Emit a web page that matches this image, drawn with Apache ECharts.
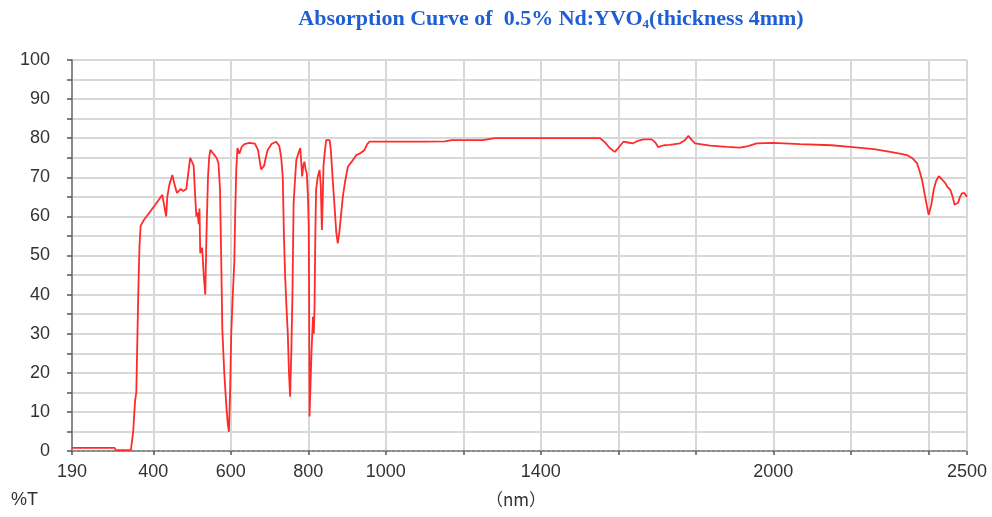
<!DOCTYPE html>
<html>
<head>
<meta charset="utf-8">
<title>Absorption Curve of 0.5% Nd:YVO4</title>
<script src="https://cdn.jsdelivr.net/npm/echarts@6/dist/echarts.min.js"></script>
<style>
  html, body { margin: 0; padding: 0; background: #fff; }
  #chart { width: 992px; height: 517px; }
</style>
</head>
<body>
<div id="chart"></div>
<script>
// Wavelength (nm) and transmittance (%T) samples of the spectrum
const wavelength = [
  190, 300, 303, 342, 348, 351, 353, 356, 358, 361, 364, 367, 375, 390, 405, 423, 428, 433, 436, 441,
  449, 455, 461, 465, 470, 477, 485, 490, 495, 500, 504, 508, 511, 514, 517, 519, 521, 526, 530, 534,
  537, 541, 544, 547, 555, 563, 568, 572, 575, 578, 583, 588, 592, 595, 598, 601, 605, 609, 611, 614,
  617, 622, 628, 635, 648, 662, 670, 678, 682, 686, 690, 695, 705, 717, 725, 730, 734, 737, 740, 743,
  747, 750, 753, 756, 759, 762, 766, 769, 774, 779, 781, 784, 787, 790, 793, 796, 799, 801, 802, 803,
  805, 808, 812, 814, 816, 818, 820, 824, 829, 832, 835, 837, 839, 842, 846, 855, 858, 863, 868, 872,
  876, 880, 884, 889, 895, 902, 912, 924, 935, 945, 952, 958, 1000, 1100, 1152, 1170, 1250, 1282, 1400, 1500,
  1553, 1565, 1578, 1591, 1600, 1613, 1625, 1638, 1650, 1665, 1686, 1695, 1703, 1718, 1733, 1759, 1772, 1781, 1790, 1798,
  1837, 1880, 1914, 1935, 1957, 2000, 2069, 2150, 2198, 2260, 2302, 2330, 2345, 2360, 2371, 2378, 2384, 2392, 2401, 2408,
  2414, 2420, 2427, 2435, 2444, 2450, 2457, 2463, 2468, 2472, 2477, 2482, 2487, 2493, 2500
];
const transmittance = [
  0.8, 0.8, 0.2, 0.2, 5, 10, 13, 15, 25, 40, 52, 57.5, 59, 61, 63, 65.5, 66, 60, 65, 68,
  70.6, 68, 66, 65.5, 67, 66.5, 67, 71, 75, 75.3, 73, 65, 60, 61, 58, 62, 50.6, 52, 45, 40,
  55, 70, 75, 77, 76, 75, 73.6, 67, 50, 31, 20, 12, 7, 4.9, 15, 30, 40, 48.4, 60, 72,
  77.5, 76, 77.8, 78.5, 78.8, 78.6, 77, 72, 71.9, 73, 75, 77, 78.5, 79.1, 78, 75, 70, 55, 45, 38,
  30, 20, 13.9, 25, 40, 63.4, 70, 74.4, 76, 77.5, 75, 70.2, 73, 74, 72, 71, 65, 57.4, 40, 8.8,
  15, 25, 34.3, 30, 36.9, 55, 66.8, 70, 71.9, 68, 56.5, 64, 72.7, 76, 79.5, 79.5, 77, 69.3, 62, 56,
  53.1, 56, 60, 65, 69, 72.7, 74, 75.7, 76.2, 77, 78.5, 79.1, 79.1, 79.1, 79.2, 79.5, 79.5, 80, 80, 80,
  80, 79, 77.5, 76.5, 77.5, 79.1, 78.9, 78.7, 79.3, 79.7, 79.7, 79, 77.7, 78.2, 78.3, 78.7, 79.5, 80.6, 79.5, 78.7,
  78.1, 77.8, 77.6, 78, 78.7, 78.8, 78.5, 78.2, 77.8, 77.2, 76.5, 76, 75.7, 74.8, 73.6, 71.5, 69.3, 65, 60.4, 63,
  66.8, 69, 70.3, 69.5, 68.5, 67.5, 66.8, 65, 63, 62.7, 63.5, 65, 65.9, 66, 65
];

// Axis ticks and labels
const xTickValues = [190, 400, 600, 800, 1000, 1200, 1400, 1600, 1800, 2000, 2200, 2400, 2500];
const xLabelValues = [190, 400, 600, 800, 1000, 1400, 2000, 2500];
const yLabelStep = 10;

const titleMain = 'Absorption Curve of  0.5% Nd:YVO';
const titleSub = '4';
const titleTail = '(thickness 4mm)';
const yName = '%T';
const xName = '（nm）';

const chart = echarts.init(document.getElementById('chart'));
const labelFont = '"Liberation Sans", Arial, sans-serif';
const titleFont = '"Liberation Serif", "Times New Roman", serif';

chart.setOption({
  animation: false,
  backgroundColor: '#fff',
  grid: { left: 72, right: 25, top: 60, bottom: 66, show: false },
  graphic: [
    {
      type: 'text', x: 551, y: 19,
      style: {
        text: '{a|' + titleMain + '}{s|' + titleSub + '}{a|' + titleTail + '}',
        align: 'center', verticalAlign: 'middle',
        rich: {
          a: { fontFamily: titleFont, fontWeight: 'bold', fontSize: 22, fill: '#1f5fd3', lineHeight: 24 },
          s: { fontFamily: titleFont, fontWeight: 'bold', fontSize: 13, fill: '#1f5fd3', lineHeight: 24, padding: [11, 0, 0, 0] }
        }
      }
    },
    {
      type: 'text', x: 11, y: 500,
      style: { text: yName, fontFamily: labelFont, fontSize: 18, fill: '#333', verticalAlign: 'middle' }
    },
    {
      type: 'text', x: 516, y: 500,
      style: { text: xName, fontFamily: '"Noto Sans CJK SC", sans-serif', fontSize: 17, fill: '#333', align: 'center', verticalAlign: 'middle' }
    }
  ],
  xAxis: {
    type: 'value',
    min: 190,
    max: 2500,
    axisLine: { show: true, lineStyle: { color: '#8a8a8a', width: 2, type: [3, 2] } },
    axisTick: { show: true, customValues: xTickValues, length: 4, lineStyle: { color: '#555', width: 1.5 } },
    axisLabel: {
      customValues: xLabelValues,
      fontFamily: labelFont, fontSize: 18, color: '#333', margin: 12,
      formatter: v => String(v)
    },
    splitLine: { show: true, lineStyle: { color: '#d8d8d8', width: 2 } }
  },
  yAxis: {
    type: 'value',
    min: 0,
    max: 100,
    interval: 5,
    axisLine: { show: true, lineStyle: { color: '#8a8a8a', width: 2 } },
    axisTick: { show: true, inside: false, length: 5, lineStyle: { color: '#555', width: 1.5 } },
    axisLabel: {
      fontFamily: labelFont, fontSize: 18, color: '#333', margin: 22,
      formatter: v => (v % yLabelStep === 0 ? String(v) : '')
    },
    splitLine: { show: true, lineStyle: { color: '#d8d8d8', width: 2 } }
  },
  series: [{
    type: 'line',
    data: wavelength.map((w, i) => [w, transmittance[i]]),
    showSymbol: false,
    smooth: false,
    lineStyle: { color: '#ff2b2b', width: 1.8 },
    z: 3
  }]
});
</script>
</body>
</html>
